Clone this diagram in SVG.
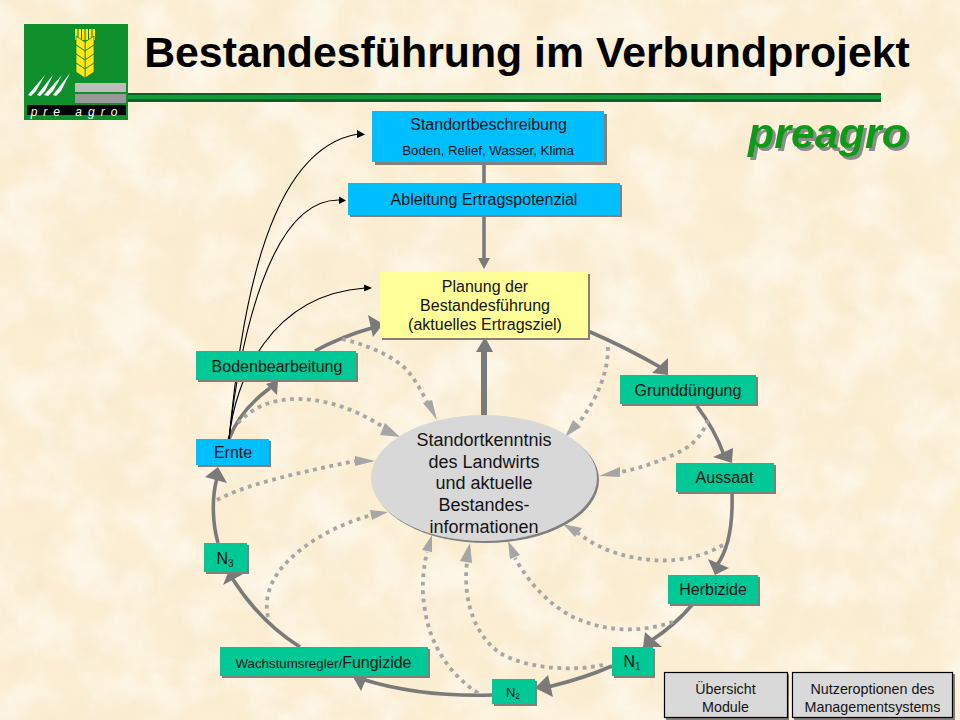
<svg xmlns="http://www.w3.org/2000/svg" width="960" height="720" viewBox="0 0 960 720">
<style>
text{font-family:"Liberation Sans",Arial,sans-serif;fill:#141414;text-anchor:middle}
.sh{fill:#847f78}
.blue{fill:#00bfff}
.teal{fill:#00c896}
.yel{fill:#ffff99}
.btn{fill:#d9d9d9;stroke:#000;stroke-width:1.2}
.arc{fill:none;stroke:#7a7a7a;stroke-width:3.6}
.ah{fill:#7a7a7a}
.dot{fill:none;stroke:#a6a6a6;stroke-width:3.8;stroke-dasharray:3.8 4.6}
.dh{fill:#a6a6a6}
.blk{fill:none;stroke:#000;stroke-width:1.1}
.bh{fill:#000}
.t16{font-size:16px}
.t18{font-size:18px}
.t14{font-size:14.300px}
</style>
<defs>
<filter id="paperDark" x="0" y="0" width="100%" height="100%">
<feTurbulence type="fractalNoise" baseFrequency="0.03" numOctaves="4" seed="7"/>
<feColorMatrix type="matrix" values="0 0 0 0 0.93  0 0 0 0 0.80  0 0 0 0 0.60  3 0 0 0 -1.300"/>
</filter>
<filter id="paperLight" x="0" y="0" width="100%" height="100%">
<feTurbulence type="fractalNoise" baseFrequency="0.02" numOctaves="4" seed="21"/>
<feColorMatrix type="matrix" values="0 0 0 0 1  0 0 0 0 0.98  0 0 0 0 0.93  3 0 0 0 -1.200"/>
</filter>
<filter id="brandShadow" x="-10%" y="-20%" width="120%" height="140%">
<feDropShadow dx="3" dy="3" stdDeviation=".4" flood-color="#8c8c8c"/>
</filter>
<g id="kernel"><path d="M0,0 L9,-6 L9,3 L0,9 Z" fill="#ffe81a" stroke="#1a7a20" stroke-width=".7"/><path d="M0,0 L-9,-6 L-9,3 L0,9 Z" fill="#ffe81a" stroke="#1a7a20" stroke-width=".7"/></g>
</defs>
<rect width="960" height="720" fill="#fbeed3"/>
<rect width="960" height="720" filter="url(#paperLight)" opacity=".6"/>
<rect width="960" height="720" filter="url(#paperDark)" opacity=".3"/>

<g id="logo">
<rect x="24" y="24" width="104" height="96" fill="#0e8f2c"/>
<path d="M75,29h20v11h-20z" fill="#ffe81a"/>
<path d="M78,29v11M81.500,29v11M85,29v11M88.500,29v11M92,29v11" stroke="#1a7a20" stroke-width="1"/>
<use href="#kernel" x="85" y="42"/><use href="#kernel" x="85" y="51"/><use href="#kernel" x="85" y="60"/><use href="#kernel" x="85" y="69"/>
<path d="M28,95 L45,75 L36,91 L31,96 Z M37,95 L53,75 L45,91 L40,96 Z M44,95 L62,75 L53,91 L48,96 Z M53,95 L70,73 L61,91 L56,96 Z" fill="#fff"/>
<rect x="75" y="83" width="51" height="9" fill="#bdbdbd"/>
<rect x="75" y="94" width="51" height="9" fill="#999"/>
<rect x="27" y="105" width="99" height="10" fill="#000"/>
<text x="77" y="116" style="font-size:12px;font-style:italic;fill:#fff;letter-spacing:6px">pre agro</text>
</g>
<g id="rule">
<rect x="128" y="93" width="753" height="9" fill="#0b5f2a"/>
<rect x="128" y="95" width="753" height="4" fill="#11993a"/>
</g>
<g id="title">
<text x="527" y="67" style="font-size:42.800px;font-weight:bold;fill:#000">Bestandesführung im Verbundprojekt</text>
</g>
<g id="brand">
<text x="828" y="148" filter="url(#brandShadow)" style="font-size:43px;font-weight:bold;font-style:italic;fill:#0a9a12">preagro</text>
</g>

<g id="connectors">
<path class="arc" d="M484,162V183"/>
<path class="arc" d="M484,215V260"/><polygon class="ah" points="478,258 490,258 484,269"/>
<path d="M484,416V350" fill="none" stroke="#7a7a7a" stroke-width="6"/><polygon class="ah" points="476,352 493,352 485,337"/>
<path class="arc" d="M588,331 Q625,347 660,367"/><polygon class="ah" points="668,358 652,373 668,375"/>
<path class="arc" d="M697,406 Q715,430 724,455"/><polygon class="ah" points="733,448 713,457 732,463"/>
<path class="arc" d="M732,493 C733,525 728,550 717,565"/><polygon class="ah" points="708,559 729,568 715,575"/>
<path class="arc" d="M692,605 Q675,625 652,640"/><polygon class="ah" points="645,632 662,647 643,647"/>
<path class="arc" d="M612,666 Q585,678 548,687"/><polygon class="ah" points="548,675 553,697 535,688"/>
<path class="arc" d="M492,695 Q420,697 365,680"/><polygon class="ah" points="370,670 361,691 353,677"/>
<path class="arc" d="M300,647 Q260,622 232,578"/><polygon class="ah" points="223,585 230,568 245,573"/>
<path class="arc" d="M218,543 C213,525 211,500 217,478"/><polygon class="ah" points="218,467 205,477 227,483"/>
<path class="arc" d="M229,439 Q240,410 270,388"/><polygon class="ah" points="278,380 266,384 277,395"/>
<path class="arc" d="M315,351 Q340,337 375,327"/><polygon class="ah" points="368,315 383,324 373,337"/>

<path class="dot" d="M342,339 C372,346 395,358 407,370 C415,380 421,390 427,402"/><polygon class="dh" points="423,403 432,400 437,420"/>
<path class="dot" d="M238,423 C255,405 275,399 297,399 C330,399 360,412 385,428"/><polygon class="dh" points="385,423 380,435 400,437"/>
<path class="dot" d="M217,500 C240,487 285,476 313,470 C330,466 345,463 356,461"/><polygon class="dh" points="355,456 355,466 375,461"/>
<path class="dot" d="M268,617 C264,600 270,583 280,570 C300,545 335,525 372,515"/><polygon class="dh" points="370,510 372,520 388,512"/>
<path class="dot" d="M478,693 C450,675 430,645 425,610 C421,590 423,570 427,552"/><polygon class="dh" points="422,550 432,552 432,535"/>
<path class="dot" d="M603,665 C570,672 525,668 500,653 C478,638 462,605 467,562"/><polygon class="dh" points="460,561 472,563 470,543"/>
<path class="dot" d="M673,622 C640,633 605,632 573,617 C550,605 530,585 515,558"/><polygon class="dh" points="510,559 520,555 508,541"/>
<path class="dot" d="M723,545 C700,558 675,562 653,560 C625,558 600,550 578,533"/><polygon class="dh" points="563,524 582,528 575,537"/>
<path class="dot" d="M708,420 C700,440 690,447 673,455 C655,463 640,468 621,472"/><polygon class="dh" points="620,467 620,477 599,476"/>
<path class="dot" d="M608,347 C608,370 600,395 578,424"/><polygon class="dh" points="573,420 581,427 565,437"/>

<path class="blk" d="M229,439 C240,330 262,150 358,134"/><polygon class="bh" points="357,130 365,134.500 357,138"/>
<path class="blk" d="M229,439 C240,340 270,198 340,200"/><polygon class="bh" points="339,196.500 346,200.500 339,204"/>
<path class="blk" d="M229,439 C235,380 270,295 365,288"/><polygon class="bh" points="364,284.500 372,288 364,291.500"/>
</g>

<g id="standort">
<rect class="sh" x="375" y="114" width="232" height="51"/><rect class="blue" x="372" y="111" width="232" height="51"/>
<text class="t16" x="488.500" y="130">Standortbeschreibung</text>
<text x="488" y="155" style="font-size:13.300px">Boden, Relief, Wasser, Klima</text>
</g>
<g id="ableitung">
<rect class="sh" x="350" y="185" width="272" height="32"/><rect class="blue" x="348" y="183" width="272" height="32"/>
<text class="t16" x="484" y="205">Ableitung Ertragspotenzial</text>
</g>
<g id="planung">
<rect class="sh" x="382" y="274" width="208" height="66"/><rect class="yel" x="380" y="272" width="208" height="66"/>
<text class="t16" x="485" y="292">Planung der</text>
<text class="t16" x="485" y="311">Bestandesführung</text>
<text class="t16" x="485" y="330">(aktuelles Ertragsziel)</text>
</g>
<g id="bodenbearbeitung">
<rect class="sh" x="198" y="353" width="160" height="29"/><rect class="teal" x="196" y="351" width="160" height="29"/>
<text class="t16" x="277" y="372">Bodenbearbeitung</text>
</g>
<g id="ernte">
<rect class="sh" x="198" y="441" width="73" height="26"/><rect class="blue" x="196" y="439" width="73" height="26"/>
<text class="t16" x="233" y="458">Ernte</text>
</g>
<g id="grundduengung">
<rect class="sh" x="622" y="377" width="136" height="29"/><rect class="teal" x="620" y="375" width="136" height="29"/>
<text class="t16" x="688" y="396">Grunddüngung</text>
</g>
<g id="aussaat">
<rect class="sh" x="678" y="465" width="98" height="29"/><rect class="teal" x="676" y="463" width="98" height="29"/>
<text class="t16" x="724.500" y="483">Aussaat</text>
</g>
<g id="herbizide">
<rect class="sh" x="670" y="577" width="90" height="29"/><rect class="teal" x="668" y="575" width="90" height="29"/>
<text class="t16" x="713" y="595">Herbizide</text>
</g>
<g id="n1">
<rect class="sh" x="614" y="649" width="41" height="29"/><rect class="teal" x="612" y="647" width="41" height="29"/>
<text class="t16" x="632" y="667">N<tspan dy="3" style="font-size:10px">1</tspan></text>
</g>
<g id="n2">
<rect class="sh" x="494" y="681" width="43" height="25"/><rect class="teal" x="492" y="679" width="43" height="25"/>
<text x="513" y="697" style="font-size:13px">N<tspan dy="2" style="font-size:8.500px">2</tspan></text>
</g>
<g id="wachstum">
<rect class="sh" x="222" y="649" width="208" height="29"/><rect class="teal" x="220" y="647" width="208" height="29"/>
<text x="323.500" y="668" style="font-size:13.300px">Wachstumsregler/<tspan class="t16">Fungizide</tspan></text>
</g>
<g id="n3">
<rect class="sh" x="206" y="545" width="43" height="29"/><rect class="teal" x="204" y="543" width="43" height="29"/>
<text class="t16" x="225" y="564">N<tspan dy="3" style="font-size:10px">3</tspan></text>
</g>
<g id="kenntnis">
<ellipse cx="486" cy="480" rx="113" ry="63" fill="#7f7f7f"/>
<ellipse cx="484" cy="478" rx="113" ry="63" fill="#d8d8d8"/>
<text class="t18" x="484" y="446">Standortkenntnis</text>
<text class="t18" x="484" y="468">des Landwirts</text>
<text class="t18" x="484" y="489">und aktuelle</text>
<text class="t18" x="484" y="511">Bestandes-</text>
<text class="t18" x="484" y="533">informationen</text>
</g>
<g id="uebersicht">
<rect class="sh" x="666" y="674" width="123" height="46"/><rect class="btn" x="664.500" y="672.500" width="123" height="45"/>
<text class="t14" x="725.500" y="694">Übersicht</text>
<text class="t14" x="725.500" y="712">Module</text>
</g>
<g id="nutzer">
<rect class="sh" x="794" y="674" width="161" height="46"/><rect class="btn" x="792.500" y="672.500" width="160" height="45"/>
<text class="t14" x="872.500" y="694">Nutzeroptionen des</text>
<text class="t14" x="872.500" y="712">Managementsystems</text>
</g>
</svg>
